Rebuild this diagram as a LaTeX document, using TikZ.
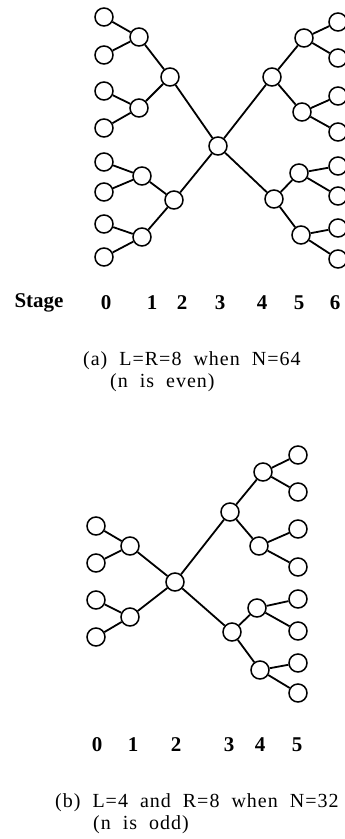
\documentclass[tikz,border=0pt]{standalone}
\usepackage{fontspec}
\setmainfont{Liberation Serif}
\usetikzlibrary{positioning}

\newcommand{\captfont}{\fontsize{20}{22}\selectfont\addfontfeatures{LetterSpace=5}\spaceskip=12pt\relax}

\begin{document}
\begin{tikzpicture}[
  x=1pt, y=-1pt,
  vertex/.style={draw, circle, line width=1.5pt, minimum size=18pt, inner sep=0pt},
  link/.style={line width=1.8pt},
  stagelbl/.style={font=\fontsize{21}{22}\selectfont\bfseries, inner sep=0pt},
  capt/.style={font=\captfont, align=left, inner sep=0pt}
]
\useasboundingbox (0,0) rectangle (345,839);

% (a) N=64: stages 0 to 6
\foreach \i/\y in {1/17,2/55,3/91,4/128,5/162,6/192,7/224,8/257}
  \node[vertex] (a0\i) at (104,\y) {};
\node[vertex] (a11) at (139,37) {};
\node[vertex] (a12) at (139,108) {};
\node[vertex] (a13) at (142,176) {};
\node[vertex] (a14) at (142,237) {};
\node[vertex] (a21) at (170,77) {};
\node[vertex] (a22) at (174,200) {};
\node[vertex] (a3) at (218,146) {};
\node[vertex] (a41) at (272,77) {};
\node[vertex] (a42) at (274,199) {};
\node[vertex] (a51) at (304,38) {};
\node[vertex] (a52) at (302,112) {};
\node[vertex] (a53) at (299,173) {};
\node[vertex] (a54) at (301,235) {};
\foreach \i/\y in {1/22,2/58,3/96,4/132,5/166,6/196,7/228,8/259}
  \node[vertex] (a6\i) at (338,\y) {};

\foreach \p/\c in {11/01,11/02,12/03,12/04,13/05,13/06,14/07,14/08,
                   21/11,21/12,22/13,22/14,
                   41/51,41/52,42/53,42/54,
                   51/61,51/62,52/63,52/64,53/65,53/66,54/67,54/68}
  \draw[link] (a\p) -- (a\c);
\foreach \c in {21,22,41,42}
  \draw[link] (a3) -- (a\c);

\node[stagelbl] (stage) at (39,303) {Stage};
\foreach \n/\x in {0/106,1/152,2/182,3/220,4/262,5/299,6/335}
  \node[stagelbl] (sa\n) at (\x,303) {\n};
\node[capt, anchor=west] (capa) at (83,372)
  {(a) L=R=8 when N=64\\\hspace*{27pt}(n is even)};

% (b) N=32: stages 0 to 5
\foreach \i/\y in {1/526,2/563,3/600,4/637}
  \node[vertex] (b0\i) at (96,\y) {};
\node[vertex] (b11) at (130,546) {};
\node[vertex] (b12) at (130,617) {};
\node[vertex] (b2) at (175,582) {};
\node[vertex] (b31) at (230,512) {};
\node[vertex] (b32) at (232,632) {};
\node[vertex] (b41) at (263,472) {};
\node[vertex] (b42) at (259,546) {};
\node[vertex] (b43) at (257,608) {};
\node[vertex] (b44) at (260,670) {};
\foreach \i/\y in {1/455,2/492,3/529,4/567,5/599,6/631,7/663,8/693}
  \node[vertex] (b5\i) at (298,\y) {};

\foreach \p/\c in {11/01,11/02,12/03,12/04,
                   31/41,31/42,32/43,32/44,
                   41/51,41/52,42/53,42/54,43/55,43/56,44/57,44/58}
  \draw[link] (b\p) -- (b\c);
\foreach \c in {11,12,31,32}
  \draw[link] (b2) -- (b\c);

\foreach \n/\x in {0/97,1/133,2/176,3/229,4/260,5/297}
  \node[stagelbl] (sb\n) at (\x,745) {\n};
\node[capt, anchor=west] (capb) at (55,814)
  {(b) L=4 and R=8 when N=32\\\hspace*{38pt}(n is odd)};
\end{tikzpicture}
\end{document}
